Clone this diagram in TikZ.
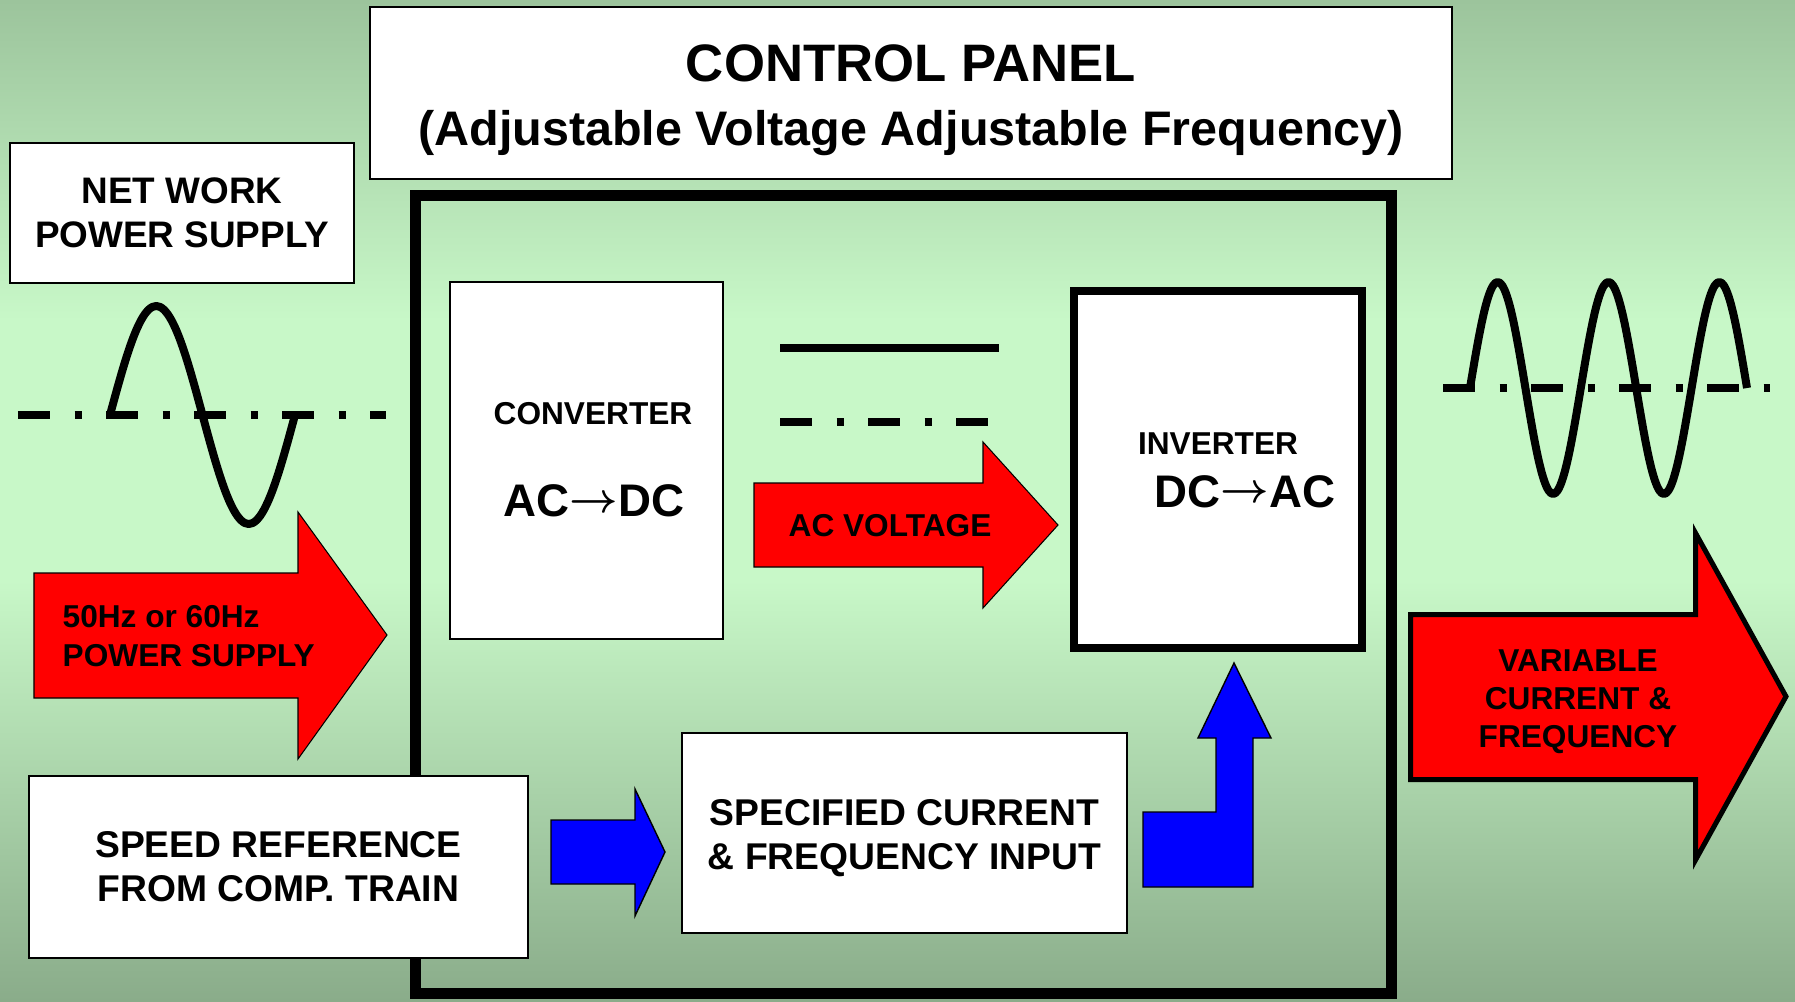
\documentclass[tikz,border=0pt]{standalone}
\usepackage{fontspec}
\setmainfont{Liberation Sans}
\usetikzlibrary{
    arrows.meta,
    positioning,
    calc
}
\definecolor{bgtop}{RGB}{156, 196, 156}
\definecolor{bglight}{RGB}{200, 248, 200}
\definecolor{bgbottom}{RGB}{138, 172, 138}
\definecolor{powerred}{RGB}{255, 0, 0}
\definecolor{signalblue}{RGB}{0, 0, 255}
\newcommand{\convarrow}{\raisebox{0.1em}{\boldmath$\rightarrow$}}
\tikzset{
    panelbox/.style={draw=black, fill=white, line width=0.4pt, inner sep=0pt, align=center},
    boxtext/.style={font=\fontsize{10.5}{12.6}\selectfont\bfseries},
    smalltext/.style={font=\fontsize{9}{11}\selectfont\bfseries, inner sep=0pt},
    signtext/.style={font=\fontsize{13}{15}\selectfont\bfseries, inner sep=0pt},
    wavepen/.style={line width=0.08cm, line join=round},
    axisdash/.style={line width=0.08cm, dash pattern=on 0.32cm off 0.245cm on 0.07cm off 0.245cm},
    redarrow/.style={draw=black, fill=powerred, line width=0.3pt},
    bluearrow/.style={draw=black, fill=signalblue, line width=0.4pt}
}

\begin{document}
\begin{tikzpicture}
    \useasboundingbox (0,0) rectangle (17.95,10.01);
    % Background
    \shade[top color=bgtop, bottom color=bglight] (0,6.80) rectangle (17.95,10.01);
    \fill[bglight] (0,4.20) rectangle (17.95,6.82);
    \shade[top color=bglight, bottom color=bgbottom] (0,0) rectangle (17.95,4.21);

    % Control panel frame
    \draw[line width=0.11cm] (4.155,0.08) rectangle (13.91,8.05);
    \node[panelbox, minimum width=10.82cm, minimum height=1.72cm] (title) at (9.11,9.08) {};
    \node[anchor=base, inner sep=0pt, font=\fontsize{15}{18}\selectfont\bfseries] (titleline) at (9.11,9.19) {CONTROL PANEL};
    \node[anchor=base, inner sep=0pt, font=\fontsize{13.8}{16}\selectfont\bfseries] (subline) at (9.11,8.555)
        {(Adjustable Voltage Adjustable Frequency)};

    % Network supply
    \node[panelbox, boxtext, minimum width=3.44cm, minimum height=1.40cm] (netsupply) at (1.82,7.88)
        {NET WORK\\POWER SUPPLY};
    \draw[axisdash] (0.18,5.86) -- (3.86,5.86);
    \draw[wavepen] plot[smooth, domain=0:360, samples=49] ({1.10+1.85*\x/360},{5.86+1.09*sin(\x)});
    \draw[redarrow] (0.34,4.28) -- (2.98,4.28) -- (2.98,4.89) -- (3.87,3.66) -- (2.98,2.42)
        -- (2.98,3.03) -- (0.34,3.03) -- cycle;
    \node[smalltext, anchor=west, align=left] (supplytext) at (0.62,3.65) {50Hz or 60Hz\\POWER SUPPLY};

    % Converter
    \node[panelbox, minimum width=2.73cm, minimum height=3.57cm] (converter) at (5.865,5.405) {};
    \node[smalltext] (convname) at (5.93,5.87) {CONVERTER};
    \node[signtext] (convsign) at (5.94,5.00) {AC\convarrow DC};

    % DC link
    \draw[line width=0.08cm] (7.80,6.53) -- (9.99,6.53);
    \draw[axisdash] (7.80,5.79) -- (9.88,5.79);
    \draw[redarrow] (7.54,5.18) -- (9.83,5.18) -- (9.83,5.59) -- (10.58,4.76) -- (9.83,3.93)
        -- (9.83,4.34) -- (7.54,4.34) -- cycle;
    \node[smalltext] (linktext) at (8.90,4.75) {AC VOLTAGE};

    % Inverter
    \node[panelbox, line width=0.08cm, minimum width=2.875cm, minimum height=3.56cm] (inverter) at (12.18,5.315) {};
    \node[smalltext] (invname) at (12.18,5.575) {INVERTER};
    \node[signtext] (invsign) at (12.45,5.095) {DC\convarrow AC};

    % Motor side
    \draw[axisdash] (14.43,6.13) -- (17.70,6.13);
    \draw[wavepen] plot[smooth, domain=0:900, samples=121] ({14.70+1.108*\x/360},{6.13+1.06*sin(\x)});
    \draw[redarrow, line width=0.05cm] (14.105,3.865) -- (16.955,3.865) -- (16.955,4.68) -- (17.86,3.045)
        -- (16.955,1.41) -- (16.955,2.215) -- (14.105,2.215) -- cycle;
    \node[smalltext, align=center, font=\fontsize{9}{10.8}\selectfont\bfseries] (outtext) at (15.78,2.995)
        {VARIABLE\\CURRENT \&\\FREQUENCY};

    % Speed reference
    \node[panelbox, minimum width=4.99cm, minimum height=1.82cm,
          font=\fontsize{10.6}{12.5}\selectfont\bfseries] (speedref) at (2.785,1.34)
        {SPEED REFERENCE\\FROM COMP. TRAIN};
    \draw[bluearrow] (5.51,1.81) -- (6.35,1.81) -- (6.35,2.12) -- (6.65,1.49) -- (6.35,0.85)
        -- (6.35,1.17) -- (5.51,1.17) -- cycle;
    \node[panelbox, minimum width=4.45cm, minimum height=2.00cm] (setpoint) at (9.045,1.68) {};
    \node[inner sep=0pt, align=center, font=\fontsize{10.6}{12.5}\selectfont\bfseries] (setpointtext) at (9.045,1.625)
        {SPECIFIED CURRENT\\\& FREQUENCY INPUT};
    \draw[bluearrow] (11.43,1.89) -- (12.16,1.89) -- (12.16,2.63) -- (11.98,2.63) -- (12.34,3.38)
        -- (12.71,2.63) -- (12.53,2.63) -- (12.53,1.14) -- (11.43,1.14) -- cycle;
\end{tikzpicture}
\end{document}
